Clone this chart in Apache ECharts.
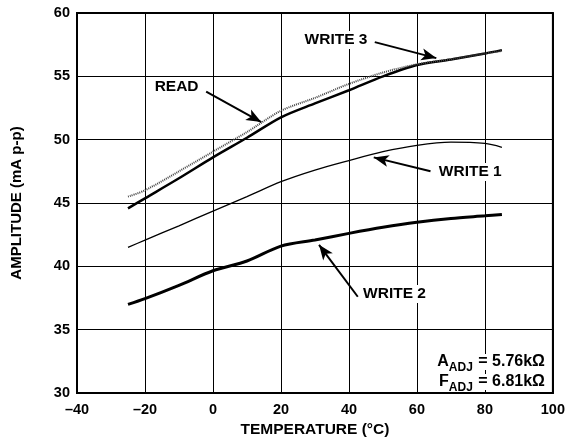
<!DOCTYPE html>
<html>
<head>
<meta charset="utf-8">
<script src="https://cdn.jsdelivr.net/npm/echarts@6/dist/echarts.min.js"></script>
<style>
html,body{margin:0;padding:0;background:#fff;}
#c{width:568px;height:444px;}
</style>
</head>
<body>
<div id="c"></div>
<script>
// Temperatures (°C) at which each curve was read
const temps = [-25, -20, -10, 0, 10, 20, 30, 40, 50, 60, 70, 80, 85];
// Amplitude (mA p-p)
const readVals   = [45.5, 46.0, 47.5, 49.05, 50.6, 52.28, 53.3, 54.4, 55.3, 55.95, 56.35, 56.8, 57.0];
const write3Vals = [44.58, 45.37, 46.95, 48.6, 50.15, 51.76, 52.86, 53.9, 55.0, 55.9, 56.33, 56.8, 57.07];
const write1Vals = [41.5, 42.07, 43.2, 44.36, 45.5, 46.68, 47.6, 48.35, 49.05, 49.55, 49.8, 49.7, 49.4];
const write2Vals = [37.0, 37.45, 38.5, 39.65, 40.42, 41.6, 42.08, 42.6, 43.08, 43.48, 43.78, 43.99, 44.1];

const xTicks = {min: -40, max: 100, step: 20};
const yTicks = {min: 30, max: 60, step: 5};

// Curve labels and their arrows (data coordinates)
const curveLabels = ['READ', 'WRITE 3', 'WRITE 1', 'WRITE 2'];
const labelPos   = [[-10.7, 54.15], [36.2, 57.86], [75.7, 47.44], [53.4, 37.81]];
const arrowFrom  = [[-2.0, 53.8], [47.6, 57.7], [64.0, 47.5], [42.6, 37.6]];
const arrowTo    = [[14.2, 51.39], [65.7, 56.44], [47.3, 48.6], [31.2, 41.7]];

const noteLines = [['A', 'ADJ', ' = 5.76kΩ'], ['F', 'ADJ', ' = 6.81kΩ']];

const FONT = '"Liberation Sans", Arial, Helvetica, sans-serif';
const pairs = v => temps.map((t, i) => [t, v[i]]);
const dash = v => String(v).replace('-', '–');

const chart = echarts.init(document.getElementById('c'));
const arrowData = arrowFrom.map((f, i) => [{coord: f}, {coord: arrowTo[i]}]);

chart.setOption({
  animation: false,
  backgroundColor: '#fff',
  grid: {left: 77, right: 13, top: 13, bottom: 51, show: true, borderColor: '#000', borderWidth: 2},
  xAxis: {
    type: 'value', min: xTicks.min, max: xTicks.max, interval: xTicks.step,
    name: 'TEMPERATURE (°C)', nameLocation: 'middle', nameGap: 29,
    nameTextStyle: {fontFamily: FONT, fontWeight: 'bold', fontSize: 15.5, color: '#000'},
    axisLine: {show: true, onZero: false, lineStyle: {color: '#000', width: 2}},
    axisTick: {show: false},
    axisLabel: {margin: 9, fontFamily: FONT, fontWeight: 'bold', fontSize: 14.5, color: '#000', formatter: dash},
    splitLine: {show: true, lineStyle: {color: '#000', width: 1}}
  },
  yAxis: {
    type: 'value', min: yTicks.min, max: yTicks.max, interval: yTicks.step,
    name: 'AMPLITUDE (mA p-p)', nameLocation: 'middle', nameGap: 53,
    nameTextStyle: {fontFamily: FONT, fontWeight: 'bold', fontSize: 15, color: '#000', padding: [0, 0, 0, 0]},
    axisLine: {show: true, onZero: false, lineStyle: {color: '#000', width: 2}},
    axisTick: {show: false},
    axisLabel: {margin: 7, fontFamily: FONT, fontWeight: 'bold', fontSize: 14.5, color: '#000'},
    splitLine: {show: true, lineStyle: {color: '#000', width: 1}}
  },
  series: [
    {name: 'WRITE 2', type: 'line', data: pairs(write2Vals), smooth: 0.3, showSymbol: false,
     lineStyle: {color: '#000', width: 3}},
    {name: 'WRITE 1', type: 'line', data: pairs(write1Vals), smooth: 0.3, showSymbol: false,
     lineStyle: {color: '#000', width: 1.3}},
    {name: 'WRITE 3', type: 'line', data: pairs(write3Vals), smooth: 0.3, showSymbol: false,
     lineStyle: {color: '#000', width: 2.5}},
    {name: 'READ', type: 'line', data: pairs(readVals), smooth: 0.3, showSymbol: false,
     lineStyle: {color: '#444', width: 2, type: [1, 1]},
     markLine: {silent: true, symbol: ['none', 'arrow'], symbolSize: [9, 15],
       lineStyle: {color: '#000', width: 2, type: 'solid'}, label: {show: false},
       data: arrowData}}
  ]
});

function placeText() {
  const g = [];
  curveLabels.forEach((txt, i) => {
    const p = chart.convertToPixel({gridIndex: 0}, labelPos[i]);
    g.push({type: 'text', x: p[0], y: p[1], z: 100,
      style: {text: txt, align: 'center', verticalAlign: 'middle', fill: '#000',
        font: 'bold 15.5px ' + FONT, backgroundColor: '#fff', padding: [1, 3]}});
  });
  const right = chart.convertToPixel({gridIndex: 0}, [xTicks.max, yTicks.min]);
  noteLines.forEach((ln, i) => {
    g.push({type: 'text', x: right[0] - 7, y: right[1] - 23 + i * 20, z: 100,
      style: {
        text: '{a|' + ln[0] + '}{s|' + ln[1] + '}{a|' + ln[2] + '}',
        align: 'right', verticalAlign: 'bottom', backgroundColor: '#fff', padding: [0, 1],
        rich: {
          a: {font: 'bold 16px ' + FONT, fill: '#000', color: '#000'},
          s: {font: 'bold 12px ' + FONT, fill: '#000', color: '#000', verticalAlign: 'bottom', padding: [0, 1, -4, 0]}
        }
      }});
  });
  chart.setOption({graphic: g});
}
placeText();
</script>
</body>
</html>
